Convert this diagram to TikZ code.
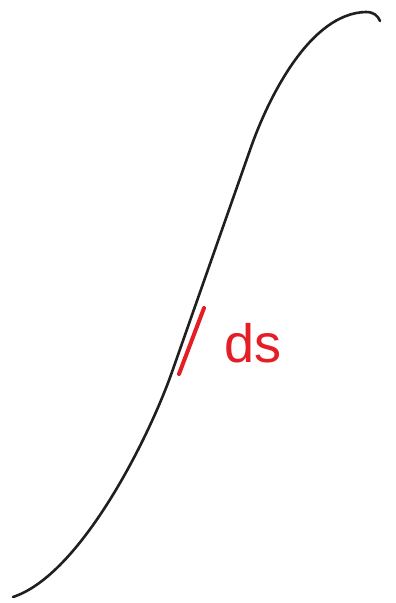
\documentclass[tikz,border=0pt]{standalone}
\usepackage{fontspec}
\setmainfont{Liberation Sans}
\definecolor{inkred}{RGB}{228,30,36}
\tikzset{
  curveline/.style={line width=2.6pt, black!88, line cap=round, line join=round},
  dsmark/.style={line width=4pt, inkred, line cap=round},
  dslabel/.style={text=inkred, font=\fontsize{54}{54}\selectfont, inner sep=0pt}
}
\begin{document}
\begin{tikzpicture}[x=1pt,y=-1pt]
\useasboundingbox (0,0) rectangle (396,603);
\fill[white] (0,0) rectangle (396,603);
\coordinate (c0) at (13,597);
\coordinate (c1) at (172,372);
\coordinate (c2) at (250,150);
\coordinate (c3) at (366,12);
\coordinate (c4) at (380,21);
\draw[curveline] (c0) .. controls (80,575) and (148,440) .. (c1)
  -- (c2) .. controls (268,98) and (310,13) .. (c3)
  .. controls (374,12) and (378,16) .. (c4);
\coordinate (ds1) at (204,308);
\coordinate (ds2) at (179,374);
\draw[dsmark] (ds1) -- (ds2);
\node[dslabel, anchor=base west] (ds) at (224,362) {ds};
\end{tikzpicture}
\end{document}
